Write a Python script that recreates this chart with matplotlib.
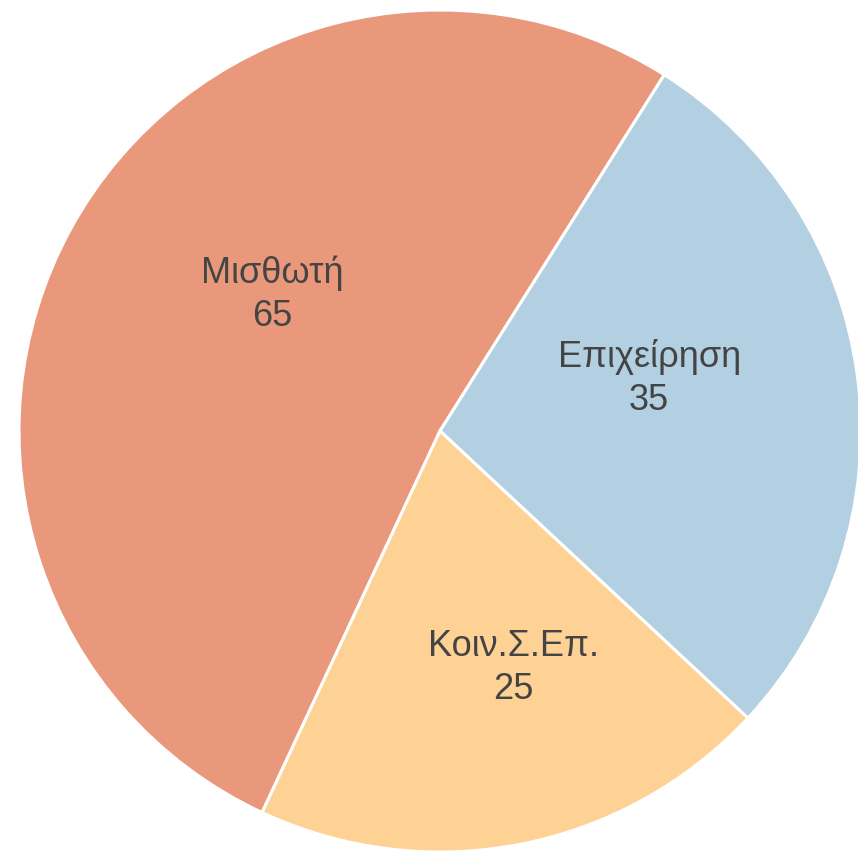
#!/usr/bin/env python3
"""
Pie chart: Μισθωτή / Επιχείρηση / Κοιν.Σ.Επ.
"""

import numpy as np
import matplotlib
matplotlib.use('Agg')
import matplotlib.pyplot as plt

# data
labels = ["Μισθωτή", "Επιχείρηση", "Κοιν.Σ.Επ."]
values = [65, 35, 25]

# styles
colors = ["#EA987B", "#B2D0E2", "#FED294"]
# label placement relative to each wedge: (angle nudge in deg, radius fraction)
label_nudge = [(-10.4, 0.514), (6.6, 0.512), (6.3, 0.589)]

plt.rcParams['font.family'] = ['Liberation Sans', 'DejaVu Sans']

fig = plt.figure(figsize=(8.58, 8.52), dpi=100)
ax = fig.add_axes([0, 0, 1, 1])

wedges, _ = ax.pie(
    values,
    colors=colors,
    startangle=-115,
    counterclock=False,
    radius=1.0,
    wedgeprops=dict(edgecolor='white', linewidth=2.2),
)

# 中心 (440, 431) px, 半径 421 px
R_PX = 421.0
ax.set_xlim(-440 / R_PX, (858 - 440) / R_PX)
ax.set_ylim(-(852 - 431) / R_PX, 431 / R_PX)
ax.axis('off')

for w, name, val, (nudge, frac) in zip(wedges, labels, values, label_nudge):
    mid = np.deg2rad((w.theta1 + w.theta2) / 2 + nudge)
    x, y = frac * np.cos(mid), frac * np.sin(mid)
    ax.text(x, y, f"{name}\n{val}", ha='center', va='center',
            fontsize=26, color='#444444', linespacing=1.3)

plt.savefig("out.png", dpi=100)
plt.close()
